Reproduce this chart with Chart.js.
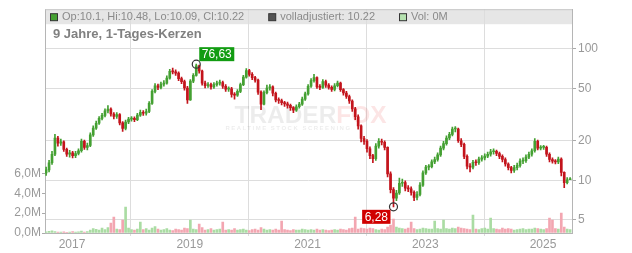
<!DOCTYPE html>
<html>
<head>
<meta charset="utf-8">
<script src="https://cdn.jsdelivr.net/npm/chart.js@4.4.1/dist/chart.umd.min.js"></script>
<style>
  html, body { margin: 0; padding: 0; background: #fff; }
</style>
</head>
<body>
<canvas id="chart" width="632" height="253"></canvas>
<script>
// Achsen / Beschriftungen
const tickYears = [2017, 2019, 2021, 2023, 2025];
const priceTicks = [5, 10, 20, 50, 100];
const volumeTicks = [0, 2, 4, 6];

// Zeitraster: eine Kerze ~ alle 18 Tage
const startYear = 2016.56;
const stepYears = 0.05;
const firstOpen = 11.4;

// Schlusskurse
const closes = [
  12.0, 13.6, 15.8, 21.0, 19.2, 19.6, 17.2, 15.8, 16.2, 15.4,
  16.0, 16.8, 19.8, 17.8, 18.4, 22.2, 25.0, 27.2, 29.6, 31.2,
  33.8, 34.8, 32.0, 30.6, 31.6, 27.4, 24.8, 27.8, 29.2, 29.6,
  29.0, 31.4, 33.0, 32.4, 33.4, 38.5, 47.5, 52.5, 51.0, 54.0,
  55.0, 60.0, 67.5, 67.0, 65.5, 59.5, 56.5, 50.5, 41.0, 57.0,
  63.0, 74.5, 68.0, 55.0, 52.5, 53.5, 51.5, 53.5, 55.0, 55.5,
  52.0, 49.5, 49.8, 45.0, 44.5, 47.5, 53.5, 61.0, 68.5, 64.0,
  60.5, 58.0, 47.0, 38.0, 46.5, 50.5, 51.5, 46.0, 41.0, 40.5,
  39.0, 38.2, 37.2, 35.8, 34.2, 36.3, 38.0, 41.5, 45.5, 52.0,
  57.5, 60.5, 51.5, 51.0, 56.5, 53.0, 51.0, 49.2, 52.5, 55.0,
  49.0, 46.2, 43.5, 40.2, 35.0, 30.5, 26.0, 20.8, 19.8, 17.4,
  15.4, 14.6, 18.2, 19.8, 19.5, 17.8, 11.2, 8.5, 7.3, 8.0,
  9.5, 9.6, 8.7, 8.6, 8.1, 7.4, 7.8, 9.2, 11.4, 12.6,
  12.7, 13.8, 14.4, 15.6, 17.6, 19.0, 21.0, 22.4, 24.6, 24.6,
  20.0, 18.8, 15.2, 12.8, 12.6, 13.7, 13.6, 14.5, 14.8, 15.3,
  15.8, 16.5, 16.6, 16.0, 15.2, 14.4, 13.3, 12.5, 11.9, 12.5,
  13.0, 14.0, 14.1, 15.0, 15.8, 16.8, 19.8, 17.6, 17.8, 17.8,
  15.8, 14.4, 14.0, 13.8, 14.5, 11.5, 9.6, 10.1, 10.22
];

// Tiefs und Hochs je Kerze
const lows = [
  10.9, 11.6, 13.2, 15.4, 18.2, 18.4, 16.6, 15.2, 15.0, 14.8,
  14.9, 15.6, 16.4, 17.2, 17.0, 18.0, 21.6, 24.4, 26.6, 28.8,
  30.4, 32.6, 30.8, 29.4, 29.6, 26.4, 23.6, 24.2, 27.0, 28.2,
  28.0, 28.4, 30.6, 31.2, 31.4, 32.8, 37.8, 46.2, 49.0, 49.6,
  52.0, 54.0, 59.0, 64.5, 63.0, 57.5, 54.5, 48.5, 38.5, 40.5,
  55.5, 62.0, 65.5, 53.0, 50.5, 51.0, 49.5, 50.0, 52.0, 53.0,
  50.0, 47.5, 47.5, 43.0, 41.5, 43.5, 46.5, 52.5, 60.0, 62.0,
  58.5, 56.0, 45.0, 34.5, 37.5, 45.5, 48.5, 44.0, 39.5, 38.5,
  37.5, 36.5, 35.5, 34.0, 32.8, 33.5, 35.5, 37.2, 40.5, 44.5,
  51.0, 56.0, 50.0, 49.0, 50.0, 51.0, 49.5, 47.5, 48.0, 51.5,
  47.5, 44.5, 42.0, 38.5, 33.5, 29.0, 24.5, 19.6, 18.8, 16.4,
  14.6, 13.6, 14.2, 17.6, 18.6, 17.0, 10.6, 8.0, 6.28, 7.0,
  7.8, 9.0, 8.3, 8.2, 7.7, 7.0, 7.1, 7.6, 9.0, 11.1,
  12.0, 12.4, 13.4, 14.0, 15.2, 17.0, 18.5, 20.4, 21.8, 23.4,
  19.4, 18.0, 14.6, 12.2, 11.6, 12.2, 13.0, 13.2, 14.0, 14.3,
  14.9, 15.3, 15.8, 15.4, 14.6, 13.8, 12.8, 12.0, 11.4, 11.5,
  12.0, 12.6, 13.4, 13.7, 14.6, 15.3, 16.4, 17.0, 17.0, 17.2,
  15.2, 13.8, 13.5, 13.3, 13.4, 10.8, 8.8, 9.4, 10.09
];
const highs = [
  12.6, 14.2, 16.6, 22.4, 21.6, 20.6, 20.0, 17.6, 16.9, 16.6,
  16.6, 17.4, 20.6, 20.2, 19.2, 23.0, 26.0, 28.2, 30.6, 32.4,
  35.0, 37.0, 35.6, 32.8, 32.8, 32.2, 28.0, 28.8, 30.2, 30.6,
  30.4, 32.4, 34.2, 34.0, 34.8, 39.8, 49.0, 54.5, 54.0, 56.0,
  57.5, 62.5, 70.0, 71.5, 69.5, 67.0, 61.0, 58.0, 52.0, 58.5,
  65.0, 76.63, 75.5, 69.0, 57.0, 55.5, 55.0, 55.5, 57.0, 58.0,
  57.0, 53.5, 51.5, 51.0, 46.5, 49.0, 55.0, 63.0, 71.0, 70.0,
  66.0, 62.0, 59.0, 48.0, 48.0, 53.0, 53.5, 52.5, 47.0, 42.5,
  41.5, 40.0, 39.5, 38.0, 36.5, 37.5, 39.2, 43.0, 47.0, 53.5,
  59.5, 64.0, 61.5, 53.5, 58.5, 58.0, 54.5, 52.5, 54.5, 57.0,
  56.0, 50.0, 47.5, 44.5, 41.0, 36.0, 31.5, 26.5, 21.6, 20.4,
  18.0, 15.8, 19.0, 20.8, 20.6, 20.0, 18.0, 11.6, 8.8, 8.4,
  10.4, 10.2, 9.9, 9.1, 8.9, 8.3, 8.2, 9.6, 11.8, 13.0,
  13.2, 14.3, 15.0, 16.2, 18.2, 19.8, 21.8, 23.2, 25.4, 25.6,
  25.0, 20.8, 19.2, 15.6, 13.4, 14.2, 14.3, 15.0, 15.4, 15.9,
  16.4, 17.2, 17.4, 17.0, 16.4, 15.6, 14.8, 13.6, 12.8, 13.0,
  13.5, 14.6, 14.8, 15.6, 16.4, 17.4, 20.8, 20.2, 18.4, 18.5,
  18.2, 16.2, 14.8, 14.4, 15.0, 14.8, 11.6, 10.5, 10.48
];

// Volumen in Mio.
const volumes = [
  0.12, 0.18, 0.22, 0.15, 0.1, 0.08, 0.12, 0.06, 0.1, 0.14, 0.08, 0.12, 0.2, 0.1, 0.15,
  0.3, 0.45, 0.38, 0.3, 0.5, 0.35, 0.55, 1.0, 1.6, 0.4, 0.35, 1.3, 2.6, 0.5, 0.35,
  0.3, 0.4, 1.1, 0.35, 0.45, 0.3, 0.5, 0.65, 0.4, 0.3, 0.35, 0.45, 0.3, 0.25, 0.4,
  0.35, 0.3, 0.5, 0.45, 1.3, 0.4, 0.35, 0.9, 0.55, 0.3, 0.35, 0.45, 0.3, 0.35, 0.4,
  1.1, 0.3, 0.35, 0.3, 0.45, 0.3, 0.35, 0.4, 0.3, 0.25, 0.35, 0.4, 0.3, 0.55, 0.4,
  0.3, 0.35, 0.3, 0.4, 0.3, 1.2, 0.35, 0.3, 0.25, 0.35, 0.3, 0.3, 0.4, 0.35, 0.3,
  0.35, 0.3, 0.4, 0.3, 0.35, 0.3, 0.25, 0.3, 0.35, 0.3, 0.4, 0.35, 0.3, 0.45, 0.5,
  1.6, 0.4, 0.5, 0.45, 0.4, 0.5, 0.45, 0.35, 0.3, 0.4, 0.35, 0.6, 0.8, 1.4, 0.6,
  0.5, 0.45, 0.4, 0.5, 1.1, 0.45, 0.35, 0.4, 0.5, 0.45, 0.4, 0.4, 1.2, 0.45, 0.4,
  1.3, 0.45, 0.4, 0.5, 0.45, 0.6, 0.5, 0.45, 0.4, 0.35, 1.8, 0.4, 0.35, 0.45, 0.5,
  0.4, 1.5, 0.45, 0.4, 0.35, 0.5, 0.4, 0.45, 0.4, 0.3, 0.35, 0.4, 0.45, 0.35, 0.4,
  0.4, 0.5, 0.45, 0.4, 0.35, 0.45, 1.5, 1.3, 0.45, 0.4, 2.0, 0.6, 0.4, 0.35
];

// Kopfzeile
const lastQuote = { op: 10.1, hi: 10.48, lo: 10.09, cl: 10.22 };
const adjusted = 10.22;

const GREEN = '#44a032';
const RED = '#c3141c';
const VOL_GREEN = '#aadca3';
const VOL_RED = '#f3a6b1';
const GRID = '#dddddd';
const AXIS = '#b5b5b5';
const LABEL = '#999999';

Chart.defaults.font.family = "'Liberation Sans', Arial, sans-serif";

const xs = closes.map((c, i) => startYear + i * stepYears);
const opens = closes.map((c, i) => i === 0 ? firstOpen : closes[i - 1]);
const isUp = closes.map((c, i) => c >= opens[i]);
const candleColors = isUp.map(u => u ? GREEN : RED);

function deNum(v, d) {
  return v.toFixed(d).replace('.', ',');
}

const decoPlugin = {
  id: 'deco',
  beforeDraw(chart) {
    const { ctx, chartArea: a } = chart;
    ctx.save();
    ctx.fillStyle = '#e6e6e6';
    ctx.fillRect(a.left, a.top, a.right - a.left, 15);
    ctx.restore();
  },
  beforeDatasetsDraw(chart) {
    // Wasserzeichen
    const { ctx, chartArea: a } = chart;
    const cx = (a.left + a.right) / 2 + 2;
    const cy = a.top + (a.bottom - a.top) * 0.48;
    ctx.save();
    ctx.font = "bold 23px 'Liberation Sans', Arial";
    ctx.textBaseline = 'middle';
    const w1 = ctx.measureText('TRADER').width;
    const w2 = ctx.measureText('FOX').width;
    const sx = 152 / (w1 + w2);
    ctx.translate(cx - 76, cy);
    ctx.scale(sx, 1);
    ctx.fillStyle = 'rgba(0,0,0,0.075)';
    ctx.fillText('TRADER', 0, 0);
    ctx.fillStyle = 'rgba(230,40,40,0.12)';
    ctx.fillText('FOX', w1, 0);
    ctx.restore();
    ctx.save();
    ctx.font = "bold 6px 'Liberation Sans', Arial";
    ctx.fillStyle = 'rgba(0,0,0,0.08)';
    ctx.textAlign = 'center';
    ctx.textBaseline = 'middle';
    ctx.letterSpacing = '1.5px';
    ctx.fillText('REALTIME STOCK SCREENING', cx - 22, cy + 12);
    ctx.restore();
  },
  afterDraw(chart) {
    const { ctx, chartArea: a, scales } = chart;
    ctx.save();
    // Rahmen oben
    ctx.strokeStyle = '#c8c8c8';
    ctx.lineWidth = 1;
    ctx.beginPath();
    ctx.moveTo(a.left, a.top + 0.5);
    ctx.lineTo(a.right, a.top + 0.5);
    ctx.stroke();

    // Legende
    const items = [
      { fill: GREEN, text: `Op:${lastQuote.op}, Hi:${lastQuote.hi}, Lo:${lastQuote.lo}, Cl:${lastQuote.cl}` },
      { fill: '#555555', text: `volladjustiert: ${adjusted}` },
      { fill: '#b6e2b0', text: 'Vol: 0M' }
    ];
    ctx.font = "11px 'Liberation Sans', Arial";
    ctx.textBaseline = 'middle';
    let x = a.left + 5;
    const ly = a.top + 8;
    items.forEach(it => {
      ctx.fillStyle = it.fill;
      ctx.fillRect(x + 0.5, ly - 3.5, 7, 7);
      ctx.strokeStyle = '#333';
      ctx.strokeRect(x + 0.5, ly - 3.5, 7, 7);
      ctx.fillStyle = '#8a8a8a';
      ctx.fillText(it.text, x + 12, ly);
      x += 12 + ctx.measureText(it.text).width + 24;
    });

    // Titel
    ctx.font = "bold 13px 'Liberation Sans', Arial";
    ctx.fillStyle = '#808080';
    ctx.fillText('9 Jahre, 1-Tages-Kerzen', a.left + 8, a.top + 25);

    // Hoch / Tief Markierungen
    const xScale = scales.x, yScale = scales.y;
    const hiVal = Math.max(...highs);
    const loVal = Math.min(...lows);
    const tag = (i, val, bg, above) => {
      const cx = xScale.getPixelForValue(xs[i]);
      const cy = yScale.getPixelForValue(val);
      ctx.strokeStyle = '#333';
      ctx.lineWidth = 1.2;
      ctx.beginPath();
      ctx.arc(cx, cy, 4, 0, Math.PI * 2);
      ctx.stroke();
      const txt = deNum(val, 2);
      ctx.font = "12px 'Liberation Sans', Arial";
      const w = ctx.measureText(txt).width + 5;
      const h = 14;
      const bx = above ? cx + 3 : cx - 3 - w;
      const by = above ? cy - 3 - h : cy + 3;
      ctx.fillStyle = bg;
      ctx.fillRect(bx, by, w, h);
      ctx.fillStyle = '#fff';
      ctx.textAlign = 'center';
      ctx.textBaseline = 'middle';
      ctx.fillText(txt, bx + w / 2, by + h / 2 + 0.5);
      ctx.textAlign = 'left';
    };
    tag(highs.indexOf(hiVal), hiVal, '#129c12', true);
    tag(lows.indexOf(loVal), loVal, '#d00000', false);
    ctx.restore();
  }
};

const ctx = document.getElementById('chart').getContext('2d');
const chart = new Chart(ctx, {
  type: 'bar',
  data: {
    datasets: [{
      label: 'Kerzenkoerper',
      data: closes.map((c, i) => ({ x: xs[i], y: [opens[i], c] })),
      backgroundColor: candleColors,
      yAxisID: 'y',
      barThickness: 2,
      minBarLength: 1,
      grouped: false,
      order: 1
    }, {
      label: 'Dochte',
      data: closes.map((c, i) => ({ x: xs[i], y: [lows[i], highs[i]] })),
      backgroundColor: candleColors,
      yAxisID: 'y',
      barThickness: 1,
      grouped: false,
      order: 2
    }, {
      label: 'Volumen',
      data: volumes.map((v, i) => ({ x: xs[i], y: v })),
      backgroundColor: isUp.map(u => u ? VOL_GREEN : VOL_RED),
      yAxisID: 'yVol',
      barThickness: 2,
      grouped: false,
      order: 3
    }]
  },
  options: {
    responsive: false,
    animation: false,
    layout: { padding: { top: 8, left: 0, right: 0, bottom: 0 } },
    plugins: { legend: { display: false }, tooltip: { enabled: false } },
    scales: {
      x: {
        type: 'linear',
        position: 'bottom',
        offset: false,
        min: 2016.541,
        max: 2025.492,
        afterBuildTicks: s => { s.ticks = tickYears.map(v => ({ value: v })); },
        afterFit: s => { s.height = 20; },
        grid: { color: GRID, tickLength: 3, tickColor: GRID },
        border: { color: AXIS },
        ticks: { color: LABEL, font: { size: 12 }, padding: 1, maxRotation: 0, autoSkip: false, callback: v => String(v) }
      },
      y: {
        type: 'logarithmic',
        position: 'right',
        min: 3.968,
        max: 200.97,
        afterBuildTicks: s => { s.ticks = priceTicks.map(v => ({ value: v })); },
        afterFit: s => { s.width = 60; },
        grid: { color: GRID, tickLength: 4, tickColor: '#aaa' },
        border: { color: AXIS },
        ticks: { color: LABEL, font: { size: 12 }, padding: 2, callback: v => String(v) }
      },
      yVol: {
        type: 'linear',
        position: 'left',
        min: 0,
        max: 22.5,
        afterBuildTicks: s => { s.ticks = volumeTicks.map(v => ({ value: v })); },
        afterFit: s => { s.width = 45; },
        grid: { drawOnChartArea: false, tickLength: 3, tickColor: '#aaa' },
        border: { color: AXIS },
        ticks: { color: LABEL, font: { size: 12 }, padding: 1, callback: v => deNum(v, 1) + 'M' }
      }
    }
  },
  plugins: [decoPlugin]
});
</script>
</body>
</html>
